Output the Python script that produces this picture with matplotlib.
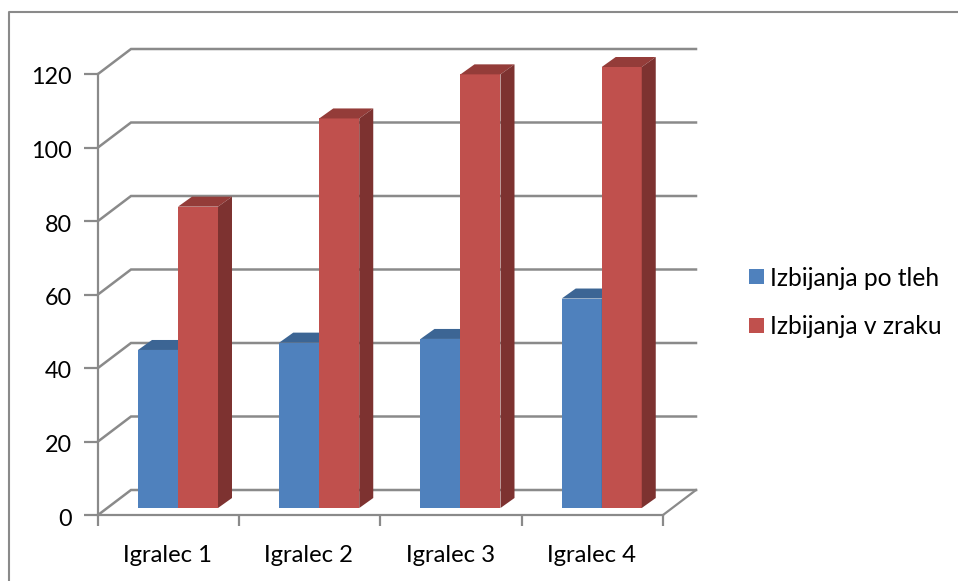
import matplotlib
matplotlib.use("Agg")
import matplotlib.pyplot as plt
from matplotlib.patches import Rectangle
from matplotlib.transforms import ScaledTranslation

players = ["Igralec 1", "Igralec 2", "Igralec 3", "Igralec 4"]
po_tleh = [43, 45, 46, 57]
v_zraku = [82, 106, 118, 120]
yticks = [0, 20, 40, 60, 80, 100, 120]

W, H = 958, 581
# plot box in pixels
X0, X1, Y0, Y1 = 98, 663, 515, 74
GRID = "#8a8a8a"

plt.rcParams["font.family"] = ["Lato", "DejaVu Sans"]

fig = plt.figure(figsize=(W / 100, H / 100), dpi=100)
# outer frame: only top and left are in the picture
fig.add_artist(plt.Line2D([9 / W, 9 / W, 1], [0, 1 - 12 / H, 1 - 12 / H], transform=fig.transFigure,
                          color=GRID, lw=1.5))

ax = fig.add_axes([X0 / W, 1 - Y0 / H, (X1 - X0) / W, (Y0 - Y1) / H])
ax.set_xlim(0, len(players))
ax.set_ylim(0, 120)
ax.patch.set_alpha(0)
for name in ["top", "right"]:
    ax.spines[name].set_visible(False)
for name in ["left", "bottom"]:
    ax.spines[name].set_color(GRID)
    ax.spines[name].set_linewidth(1.6)

# pixel to data factors
px_x = len(players) / (X1 - X0)
px_y = 120 / (Y0 - Y1)
back_dx, back_dy = 33 * px_x, 25 * px_y
bar_dx, bar_dy = 14 * px_x, 10 * px_y
bar_w = 40 * px_x
bar_start = 40 * px_x
bar_base = 7 * px_y

# back wall and side wall lines
for v in yticks:
    ax.plot([0, back_dx, len(players) + back_dx], [v, v + back_dy, v + back_dy],
            color=GRID, lw=1.8, clip_on=False, zorder=1, solid_joinstyle="miter")
ax.plot([len(players), len(players) + back_dx], [0, back_dy], color=GRID, lw=1.6, clip_on=False, zorder=1)


def draw_bar(x, v, front, top, side, z):
    t = v + bar_base
    ax.bar(x, v, width=bar_w, bottom=bar_base, align="edge", color=front, zorder=z, clip_on=False)
    ax.fill([x, x + bar_dx, x + bar_w + bar_dx, x + bar_w],
            [t, t + bar_dy, t + bar_dy, t], color=top, lw=0, zorder=z, clip_on=False)
    ax.fill([x + bar_w, x + bar_w + bar_dx, x + bar_w + bar_dx, x + bar_w],
            [bar_base, bar_base + bar_dy, t + bar_dy, t], color=side, lw=0, zorder=z, clip_on=False)


for i in range(len(players)):
    x = i + bar_start
    draw_bar(x, po_tleh[i], "#4f81bd", "#3c6594", "#35567e", 3)
    draw_bar(x + bar_w, v_zraku[i], "#c0504d", "#943c39", "#7d3230", 4)

ax.set_yticks(yticks)
ax.set_xticks(range(len(players) + 1))
ax.set_xticklabels([])
ax.tick_params(axis="y", length=10, width=1.6, color=GRID, labelsize=16.8, pad=9, labelcolor="black")
ax.tick_params(axis="x", length=8, width=1.6, color=GRID)
# move y labels a little down
shift = ScaledTranslation(0, -2 / 100, fig.dpi_scale_trans)
for lab in ax.get_yticklabels():
    lab.set_transform(lab.get_transform() + shift)

for i, name in enumerate(players):
    ax.annotate(name, (i + 0.5, 0), xytext=(-1, -40), textcoords="offset pixels",
                ha="center", va="center", fontsize=17.2, color="black", annotation_clip=False)

# legend
for y, col, label in [(276, "#4f81bd", "Izbijanja po tleh"), (325, "#c0504d", "Izbijanja v zraku")]:
    fig.add_artist(Rectangle((749 / W, 1 - (y + 8) / H), 15 / W, 15 / H, transform=fig.transFigure,
                             fc=col, ec="none"))
    fig.text(770 / W, 1 - (y + 2) / H, label, fontsize=17.7, va="center", ha="left", color="black")

fig.savefig("out.png", dpi=100)
